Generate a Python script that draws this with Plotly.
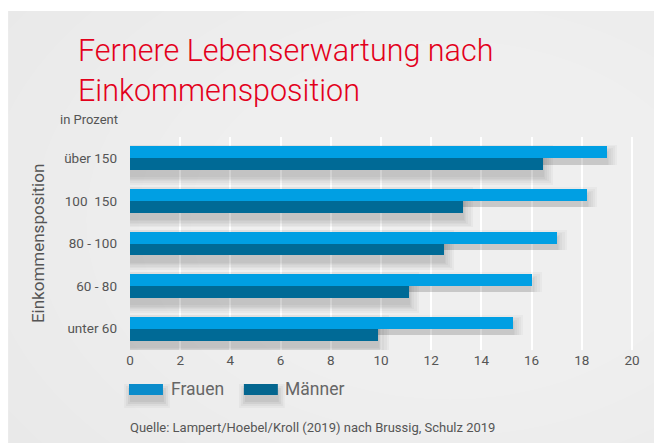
import plotly.graph_objects as go

categories = ["unter 60", "60 - 80", "80 - 100", "100  150", "über 150"]
frauen = [15.25, 16.0, 17.0, 18.2, 19.0]
maenner = [9.9, 11.1, 12.5, 13.25, 16.45]
x_ticks = [0, 2, 4, 6, 8, 10, 12, 14, 16, 18, 20]

W, H = 662, 443
OFF = 8  # page body margin
L, T = 130 - OFF, 137 - OFF
R = W - (634.5 - OFF)
B = H - (350 - OFF)
PW, PH = W - L - R, H - T - B

def px(x):
    return (x - OFF - L) / PW

def py(y):
    return (H - B - (y - OFF)) / PH

C_F = "#009fe3"
C_M = "#006a96"
FONT = "Roboto, sans-serif"

fig = go.Figure()

BW = 0.28
# soft shadows (blurred drop shadow built from stacked translucent bars)
d = 0.15
for e, ex in [(0.19, 0.42), (0.15, 0.32), (0.11, 0.23), (0.08, 0.15), (0.05, 0.09), (0.02, 0.04)]:
    fig.add_trace(go.Bar(y=categories, x=[v + ex for v in maenner], orientation="h",
                         width=2 * BW + 2 * e, offset=-BW - d - e,
                         marker=dict(color="rgba(0,0,0,0.032)", line=dict(width=0)),
                         hoverinfo="skip", showlegend=False))
    fig.add_trace(go.Bar(y=categories, x=[v + ex for v in frauen], orientation="h",
                         width=BW + e, offset=-d,
                         marker=dict(color="rgba(0,0,0,0.028)", line=dict(width=0)),
                         hoverinfo="skip", showlegend=False))

fig.add_trace(go.Bar(y=categories, x=frauen, orientation="h", name="Frauen",
                     width=BW, offset=0, marker=dict(color=C_F, line=dict(width=0)),
                     showlegend=False))
fig.add_trace(go.Bar(y=categories, x=maenner, orientation="h", name="Männer",
                     width=BW, offset=-BW, marker=dict(color=C_M, line=dict(width=0)),
                     showlegend=False))

shapes = []
# panel background
shapes.append(dict(type="rect", xref="paper", yref="paper", x0=px(8), x1=px(W + 20),
                   y0=py(H + 20), y1=py(11), fillcolor="#e9e9e9", line=dict(width=0), layer="below"))
cx, cy = 450, 220
for k in range(10):
    f = 1 - k / 10
    rx, ry = 520 * f, 360 * f
    shapes.append(dict(type="circle", xref="paper", yref="paper",
                       x0=px(cx - rx), x1=px(cx + rx), y0=py(cy + ry), y1=py(cy - ry),
                       fillcolor="rgba(255,255,255,0.06)", line=dict(width=0), layer="below"))
# legend swatches
for x0, col in [(129, "#0a8ccb"), (244, "#04668f")]:
    for e, op in [(7, 0.03), (5, 0.04), (3, 0.05), (1, 0.05)]:
        shapes.append(dict(type="rect", xref="paper", yref="paper",
                           x0=px(x0 + 2 - e), x1=px(x0 + 34 + e), y0=py(401 + e), y1=py(391 - e),
                           fillcolor=f"rgba(0,0,0,{op})", line=dict(width=0), layer="below"))
    shapes.append(dict(type="rect", xref="paper", yref="paper", x0=px(x0), x1=px(x0 + 34),
                       y0=py(395), y1=py(384), fillcolor=col, line=dict(width=0), layer="above"))

annotations = [
    dict(text="Fernere Lebenserwartung nach<br>Einkommensposition", xref="paper", yref="paper",
         x=px(76), y=py(31), xanchor="left", yanchor="top", align="left", showarrow=False,
         font=dict(family=FONT, size=30.5, color="#e3001b", weight=300)),
    dict(text="in Prozent", xref="paper", yref="paper", x=px(58), y=py(119.5),
         xanchor="left", yanchor="middle", showarrow=False,
         font=dict(family=FONT, size=13, color="#555555")),
    dict(text="Frauen", xref="paper", yref="paper", x=px(169), y=py(389),
         xanchor="left", yanchor="middle", showarrow=False,
         font=dict(family=FONT, size=17.5, color="#666666")),
    dict(text="Männer", xref="paper", yref="paper", x=px(283), y=py(389),
         xanchor="left", yanchor="middle", showarrow=False,
         font=dict(family=FONT, size=17.5, color="#666666")),
    dict(text="Quelle: Lampert/Hoebel/Kroll (2019) nach Brussig, Schulz 2019", xref="paper",
         yref="paper", x=px(128), y=py(427), xanchor="left", yanchor="middle", showarrow=False,
         font=dict(family=FONT, size=13, color="#555555")),
    dict(text="Einkommensposition", xref="paper", yref="paper", x=px(38), y=py(244),
         xanchor="center", yanchor="middle", textangle=-90, showarrow=False,
         font=dict(family=FONT, size=17, color="#555555")),
]

fig.update_layout(
    width=W, height=H, margin=dict(l=L, r=R, t=T, b=B, pad=0),
    paper_bgcolor="white", plot_bgcolor="rgba(0,0,0,0)",
    barmode="overlay", bargap=0, showlegend=False,
    shapes=shapes, annotations=annotations,
    font=dict(family=FONT, color="#555555"),
    xaxis=dict(range=[0, 20.08], tickvals=x_ticks, ticktext=[str(v) for v in x_ticks],
               showgrid=True, gridcolor="white", gridwidth=1.6, zeroline=False,
               showline=False, ticks="", automargin=False,
               tickfont=dict(size=13.5, color="#555555")),
    yaxis=dict(categoryorder="array", categoryarray=categories, range=[-0.5, 4.5],
               showgrid=False, zeroline=False, showline=False, ticks="", automargin=False,
               ticklabelstandoff=12, tickfont=dict(size=13.5, color="#555555")),
)

fig.write_html("out.html")
